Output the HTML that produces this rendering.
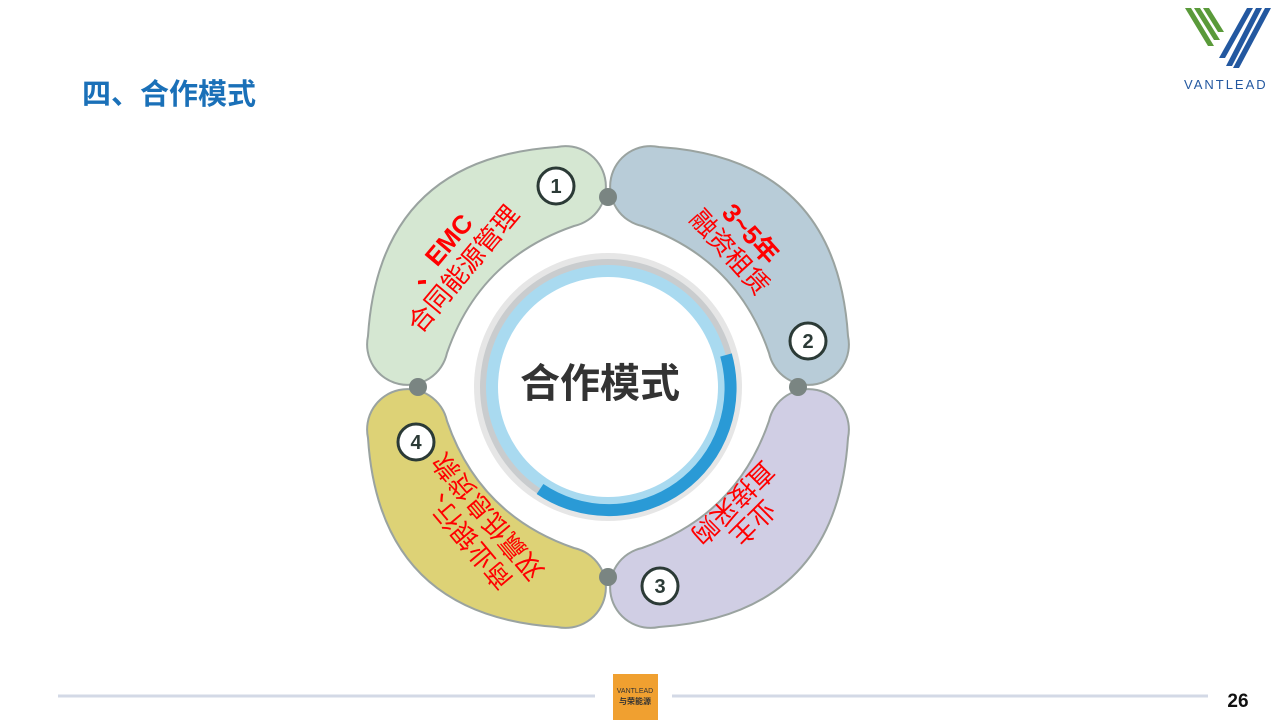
<!DOCTYPE html>
<html><head><meta charset="utf-8"><style>
html,body{margin:0;padding:0;background:#fff;width:1280px;height:720px;overflow:hidden;font-family:"Liberation Sans","Noto Sans CJK SC",sans-serif;}
</style></head><body>
<svg width="1280" height="720" viewBox="0 0 1280 720" xmlns="http://www.w3.org/2000/svg" style="position:absolute;left:0;top:0">
<defs>
<path id="petal" d="M 557,147 A 40 40 0 0 1 574,226 Q 479.5,258.5 447,353 A 40 40 0 0 1 368,336 Q 379.5,158.5 557,147 Z"/>
</defs>
<text x="82" y="104" font-size="29" font-weight="bold" fill="#1a70b8" font-family="Liberation Sans,Noto Sans CJK SC,sans-serif">四、合作模式</text>
<g>
<polygon points="1185,8 1191,8 1214,46 1208,46" fill="#5a9a3a"/>
<polygon points="1194,8 1200,8 1220,40 1214,40" fill="#5a9a3a"/>
<polygon points="1203,8 1209,8 1224,32 1218,32" fill="#5a9a3a"/>
<polygon points="1256,8 1262,8 1232,66 1226,66" fill="#2358a0"/>
<polygon points="1265,8 1271,8 1239,68 1233,68" fill="#2358a0"/>
<polygon points="1247,8 1253,8 1225,58 1219,58" fill="#2358a0"/>
<text x="1184" y="89" font-size="13" fill="#2358a0" letter-spacing="2">VANTLEAD</text>
</g>
<g stroke="#9aa3a0" stroke-width="2">
<use href="#petal" fill="#d5e7d2"/>
<use href="#petal" fill="#b8ccd8" transform="rotate(90 608 387)"/>
<use href="#petal" fill="#d0cee4" transform="rotate(180 608 387)"/>
<use href="#petal" fill="#ddd276" transform="rotate(270 608 387)"/>
</g>
<g fill="#7a8582">
<circle cx="608" cy="197" r="9"/><circle cx="798" cy="387" r="9"/><circle cx="608" cy="577" r="9"/><circle cx="418" cy="387" r="9"/>
</g>
<circle cx="608" cy="387" r="134" fill="#e6e6e6"/>
<circle cx="608" cy="387" r="128" fill="#c9ccce"/>
<circle cx="608" cy="387" r="122" fill="#a9daf0"/>
<path d="M 726,355 A 122 122 0 0 1 540,489" stroke="#2a9ad6" stroke-width="12" fill="none"/>
<circle cx="608" cy="387" r="110" fill="#fff"/>
<text x="600" y="397" font-size="40" font-weight="bold" fill="#333" text-anchor="middle" font-family="Noto Sans CJK SC,sans-serif">合作模式</text>
<g fill="#fff" stroke="#2b3a36" stroke-width="3">
<circle cx="556" cy="186" r="18"/><circle cx="808" cy="341" r="18"/><circle cx="660" cy="586" r="18"/><circle cx="416" cy="442" r="18"/>
</g>
<g font-size="20" font-weight="bold" fill="#2b3a36" text-anchor="middle">
<text x="556" y="193">1</text><text x="808" y="348">2</text><text x="660" y="593">3</text><text x="416" y="449">4</text>
</g>
<g fill="#f00" font-size="26" text-anchor="middle" font-family="Liberation Sans,Noto Sans CJK SC,sans-serif">
<g transform="translate(455,262) rotate(-50)">
<text x="0" y="-10" font-weight="bold">、EMC</text>
<text x="0" y="20">合同能源管理</text>
</g>
<g transform="translate(738,245) rotate(48)">
<text x="0" y="-8" font-weight="bold">3~5年</text>
<text x="0" y="20">融资租赁</text>
</g>
<g transform="translate(742,512) rotate(135)">
<text x="0" y="-6">业主</text>
<text x="0" y="22">直接采购</text>
</g>
<g transform="translate(478,525) rotate(-130)">
<text x="0" y="-8">商业银行、</text>
<text x="0" y="22">双赢低息贷款</text>
</g>
</g>
<line x1="58" y1="696" x2="595" y2="696" stroke="#d3d9e6" stroke-width="3"/>
<line x1="672" y1="696" x2="1208" y2="696" stroke="#d3d9e6" stroke-width="3"/>
<rect x="613" y="674" width="45" height="46" fill="#f0a030"/>
<text x="635" y="693" font-size="7" fill="#333" text-anchor="middle">VANTLEAD</text>
<text x="635" y="704" font-size="8" font-weight="bold" fill="#333" text-anchor="middle">与荣能源</text>
<text x="1238" y="707" font-size="19" font-weight="bold" fill="#111" text-anchor="middle">26</text>
</svg>
</body></html>
